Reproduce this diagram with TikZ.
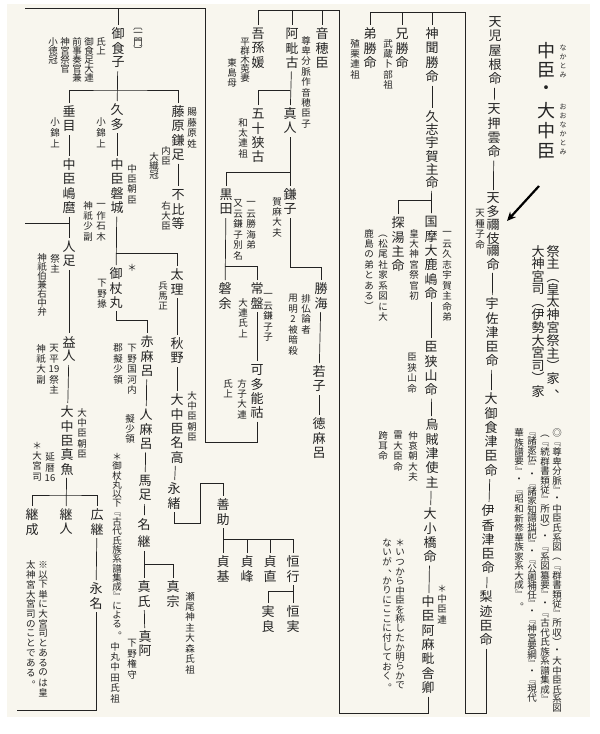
\documentclass[tikz,border=0pt]{standalone}
\usepackage{fontspec}
\newfontfamily\jp{Noto Sans CJK JP}
\usepackage{graphicx}
\usepackage{xcolor}
\definecolor{paper}{RGB}{248,246,238}
\definecolor{ink}{RGB}{35,35,35}
\usepackage{tikz}
\usetikzlibrary{arrows.meta}

% vertical stacking of characters, optional pitch in em
\makeatletter
\let\vs@end\relax
\def\vs@endm{\vs@end}
\newcommand\vstack[2][1.1]{\vbox{\offinterlineskip\def\vs@p{#1}\vs@loop#2\vs@end}}
\def\vs@loop#1{\def\vs@tmp{#1}\ifx\vs@tmp\vs@endm\else\vbox to \vs@p em{\vss\hbox to 1em{\hss#1\hss}\vss}\expandafter\vs@loop\fi}
\makeatother
% brackets and stops turned for vertical setting
\newcommand\vlp{\rotatebox[origin=c]{-90}{（}}
\newcommand\vrp{\rotatebox[origin=c]{-90}{）}}
\newcommand\vlq{\rotatebox[origin=c]{-90}{『}}
\newcommand\vrq{\rotatebox[origin=c]{-90}{』}}
\newcommand\vlt{\rotatebox[origin=c]{-90}{〔}}
\newcommand\vrt{\rotatebox[origin=c]{-90}{〕}}
\newcommand\vcomma{\rotatebox[origin=c]{180}{、}}
\newcommand\vstop{\rotatebox[origin=c]{180}{。}}

\begin{document}
\begin{tikzpicture}[
    x=1pt, y=-1pt,
    vname/.style={font=\jp\fontsize{13}{13}\selectfont, text=ink, inner sep=1.5pt, anchor=north},
    vnote/.style={font=\jp\fontsize{9.5}{9.5}\selectfont, text=ink, inner sep=0pt, anchor=north},
    vlong/.style={font=\jp\fontsize{9.5}{9.5}\selectfont, text=ink, inner sep=0pt, anchor=north},
    vtitle/.style={font=\jp\fontsize{18}{18}\selectfont, text=ink, inner sep=0pt, anchor=north},
    vruby/.style={font=\jp\fontsize{7}{7}\selectfont, text=ink, inner sep=0pt, anchor=north},
    link/.style={draw=ink, line width=0.7pt}
]
\useasboundingbox (0,0) rectangle (600,734);

% Page
\fill[white] (0,0) rectangle (600,734);
\fill[paper] (7,4) rectangle (590,717);

% Title
\node[vtitle] (title) at (546,40) {\vstack[1.12]{中臣・大中臣}};
\node[vruby] (rubyA) at (563,43) {\vstack[1.3]{なかとみ}};
\node[vruby] (rubyB) at (563,102) {\vstack[1.3]{おおなかとみ}};
\node[vname] (saishu) at (553,243) {\vstack[0.98]{祭主\vlp 皇太神宮祭主\vrp 家\vcomma}};
\node[vname] (daiguji) at (538,243) {\vstack[0.98]{大神宮司\vlp 伊勢大宮司\vrp 家}};

% Sources
\node[vlong] (srcA) at (557,428) {\vstack[1.0]{◎\vlq 尊卑分脈\vrq ・中臣氏系図\vlp\vlq 群書類従\vrq 所収\vrp ・大中臣氏系図}};
\node[vlong] (srcB) at (545,428) {\vstack[1.0]{\vlp\vlq 続群書類従\vrq 所収\vrp ・\vlq 系図纂要\vrq ・\vlq 古代氏族系譜集成\vrq}};
\node[vlong] (srcC) at (532,428) {\vstack[0.9]{\vlq 諸家伝\vrq ・\vlq 諸家知譜拙記\vrq ・\vlq 公卿補任\vrq ・\vlq 神宮要綱\vrq ・\vlq 現代}};
\node[vlong] (srcD) at (519,428) {\vstack[1.0]{華族譜要\vrq ・\vlq 昭和新修華族家系大成\vrq\vstop}};

% Right column: main line
\node[vname] (amakoyane) at (495,13) {\vstack{天児屋根命}};
\node[vname] (amaoshikumo) at (494,100) {\vstack{天押雲命}};
\node[vname] (amatane) at (493,190) {\vstack[1.02]{天多禰伎禰命}};
\node[vnote] (tanetsu) at (480,208) {\vstack{天種子命}};
\node[vname] (usatsu) at (492,295) {\vstack{宇佐津臣命}};
\node[vname] (omike) at (491,390) {\vstack{大御食津臣命}};
\node[vname] (ikatsu) at (488,502) {\vstack{伊香津臣命}};
\node[vname] (nashitomi) at (486,588) {\vstack{梨迹臣命}};

% Arrow
\coordinate (arrowtail) at (539,186);
\coordinate (arrowtip) at (507,221);
\draw[-{Stealth[length=9pt,width=8pt]}, line width=2.2pt, black] (arrowtail) -- (arrowtip);

% Second column
\node[vname] (kamikiku) at (432,25) {\vstack{神聞勝命}};
\node[vname] (ekatsu) at (402,25) {\vstack{兄勝命}};
\node[vname] (otokatsu) at (370,25) {\vstack{弟勝命}};
\node[vnote] (n-musashi) at (388,38) {\vstack{武蔵卜部祖}};
\node[vnote] (n-ekuri) at (355,38) {\vstack{殖栗連祖}};
\node[vname] (kushiuka) at (432,108) {\vstack[1.02]{久志宇賀主命}};
\node[vname] (kunisuri) at (431,213) {\vstack{国摩大鹿嶋命}};
\node[vname] (kukatachi) at (398,214) {\vstack{探湯主命}};
\node[vnote] (n-kunisuriA) at (447,228) {\vstack{一云久志宇賀主命弟}};
\node[vnote] (n-kunisuriB) at (414,228) {\vstack{皇大神宮祭官初}};
\node[vnote] (n-kukatachiA) at (383,228) {\vstack{\vlp 松尾社家系図に大}};
\node[vnote] (n-kukatachiB) at (369,228) {\vstack{鹿島の弟とある\vrp}};
\node[vname] (omisayama) at (431,338) {\vstack{臣狭山命}};
\node[vnote] (n-omisayama) at (412,352) {\vstack{臣狭山命}};
\node[vname] (ikatsuomi) at (432,416) {\vstack{烏賊津使主}};
\node[vnote] (n-ikatsuA) at (413,430) {\vstack{仲哀朝大夫}};
\node[vnote] (n-ikatsuB) at (398,430) {\vstack{雷大臣命}};
\node[vnote] (n-ikatsuC) at (383,430) {\vstack{跨耳命}};
\node[vname] (ohashi) at (430,505) {\vstack{大小橋命}};
\node[vname] (amahiko) at (428,593) {\vstack{中臣阿麻毗舎卿}};
\node[vnote] (n-amahiko) at (442,583) {\vstack{＊中臣連}};
\node[vlong] (n-itsukaraA) at (400,538) {\vstack[1.0]{＊いつから中臣を称したか明らかで}};
\node[vlong] (n-itsukaraB) at (387,538) {\vstack[1.0]{ないが\vcomma かりにここに付しておく\vstop}};

% Third column
\node[vname] (oho) at (322,25) {\vstack{音穂臣}};
\node[vname] (abiko) at (292,25) {\vstack{阿毗古}};
\node[vname] (agomime) at (258,25) {\vstack{吾孫媛}};
\node[vnote] (n-agoA) at (245,37) {\vstack[0.95]{平群木莵妻}};
\node[vnote] (n-agoB) at (232,57) {\vstack{東島母}};
\node[vnote] (n-abiko) at (306,35) {\vstack{尊卑分脈作音穂臣子}};
\node[vname] (mahito) at (290,105) {\vstack{真人}};
\node[vname] (isako) at (258,105) {\vstack{五十狭古}};
\node[vnote] (n-isako) at (243,117) {\vstack{和太連祖}};
\node[vname] (kamako) at (290,186) {\vstack{鎌子}};
\node[vname] (kuroda) at (226,186) {\vstack{黒田}};
\node[vnote] (n-kamako) at (277,196) {\vstack{賀麻大夫}};
\node[vnote] (n-kurodaA) at (251,198) {\vstack{一云勝海弟}};
\node[vnote] (n-kurodaB) at (238,198) {\vstack{又云鎌子別名}};
\node[vname] (katsumi) at (321,280) {\vstack{勝海}};
\node[vname] (iware) at (225,280) {\vstack{磐余}};
\node[vname] (tokiwa) at (257,280) {\vstack{常盤}};
\node[vnote] (n-tokiwaA) at (243,297) {\vstack{大連氏上}};
\node[vnote] (n-tokiwaB) at (268,290) {\vstack{一云鎌子子}};
\node[vnote] (n-katsumiA) at (306,293) {\vstack{排仏論者}};
\node[vnote] (n-katsumiB) at (293,293) {\vstack{用明{2}被暗殺}};
\node[vname] (katano) at (257,361) {\vstack{可多能祜}};
\node[vnote] (n-katanoA) at (242,378) {\vstack{方子大連}};
\node[vnote] (n-katanoB) at (228,378) {\vstack{氏上}};
\node[vname] (wakako) at (319,363) {\vstack{若子}};
\node[vname] (tokomaro) at (319,415) {\vstack{徳麻呂}};
\node[vname] (yoshisuke) at (223,496) {\vstack{善助}};
\node[vname] (sadamoto) at (223,553) {\vstack{貞基}};
\node[vname] (sadamine) at (247,553) {\vstack{貞峰}};
\node[vname] (sadanao) at (270,553) {\vstack{貞直}};
\node[vname] (tsuneyuki) at (293,553) {\vstack{恒行}};
\node[vname] (saneyoshi) at (268,603) {\vstack{実良}};
\node[vname] (tsunezane) at (293,603) {\vstack{恒実}};

% Left block
\node[vname] (mikeko) at (118,25) {\vstack{御食子}};
\node[vnote] (ichimon) at (138,22) {\vstack[0.85]{\vlt 一門\vrt}};
\node[vnote] (n-mikekoA) at (101,37) {\vstack[0.95]{氏上}};
\node[vnote] (n-mikekoB) at (89,37) {\vstack[0.95]{御食足大連}};
\node[vnote] (n-mikekoC) at (77,37) {\vstack[0.95]{前事奏官兼}};
\node[vnote] (n-mikekoD) at (65,37) {\vstack[0.95]{神宮祭官}};
\node[vnote] (n-mikekoE) at (53,37) {\vstack[0.95]{小徳冠}};
\node[vname] (tarume) at (69,103) {\vstack{垂目}};
\node[vname] (kuta) at (117,101) {\vstack{久多}};
\node[vname] (kamatari) at (178,103) {\vstack{藤原鎌足}};
\node[vnote] (n-tarume) at (55,117) {\vstack{小錦上}};
\node[vnote] (n-kuta) at (101,117) {\vstack{小錦上}};
\node[vnote] (n-kamatariA) at (192,107) {\vstack{賜藤原姓}};
\node[vnote] (n-kamatariB) at (166,145) {\vstack{内臣}};
\node[vnote] (n-kamatariC) at (154,152) {\vstack[0.95]{大織冠}};
\node[vname] (fuhito) at (178,186) {\vstack{不比等}};
\node[vnote] (n-fuhito) at (166,200) {\vstack{右大臣}};
\node[vname] (shimamaro) at (69,156) {\vstack{中臣嶋麿}};
\node[vname] (iwaki) at (117,156) {\vstack{中臣磐城}};
\node[vnote] (n-iwakiA) at (132,163) {\vstack{中臣朝臣}};
\node[vnote] (n-iwakiB) at (101,200) {\vstack{一作石木}};
\node[vnote] (n-iwakiC) at (88,200) {\vstack{神祇少副}};
\node[vname] (hitotari) at (69,238) {\vstack{人足}};
\node[vnote] (n-hitotariA) at (55,253) {\vstack{祭主}};
\node[vnote] (n-hitotariB) at (42,253) {\vstack[0.95]{神祇伯兼右中弁}};
\node[vname] (mitsuemaru) at (116,265) {\vstack{御杖丸}};
\node[vnote] (n-star) at (132,262) {\vstack{＊}};
\node[vnote] (n-mitsue) at (102,278) {\vstack{下野掾}};
\node[vname] (tari) at (177,266) {\vstack{太理}};
\node[vnote] (n-tari) at (163,280) {\vstack{兵馬正}};
\node[vname] (masuhito) at (69,333) {\vstack{益人}};
\node[vnote] (n-masuA) at (54,343) {\vstack{天平{19}祭主}};
\node[vnote] (n-masuB) at (41,343) {\vstack{神祇大副}};
\node[vname] (mao) at (67,403) {\vstack{大中臣真魚}};
\node[vnote] (n-maoA) at (82,407) {\vstack{大中臣朝臣}};
\node[vnote] (n-maoB) at (50,452) {\vstack{延暦{16}}};
\node[vnote] (n-maoC) at (37,440) {\vstack{＊大宮司}};
\node[vname] (tsugunari) at (32,506) {\vstack{継成}};
\node[vname] (tsuguhito) at (66,506) {\vstack{継人}};
\node[vname] (hirotsugu) at (97,506) {\vstack{広継}};
\node[vname] (nagana) at (96,580) {\vstack{永名}};
\node[vlong] (n-igeA) at (43,560) {\vstack[1.03]{※以下単に大宮司とあるのは皇}};
\node[vlong] (n-igeB) at (31,560) {\vstack[1.03]{太神宮大宮司のことである\vstop}};
\node[vname] (akamaro) at (147,333) {\vstack{赤麻呂}};
\node[vnote] (n-akaA) at (132,343) {\vstack{下野国河内}};
\node[vnote] (n-akaB) at (118,343) {\vstack{郡擬少領}};
\node[vname] (hitomaro) at (146,406) {\vstack{人麻呂}};
\node[vnote] (n-hitomaro) at (130,413) {\vstack{擬少領}};
\node[vname] (umatari) at (145,472) {\vstack{馬足}};
\node[vlong] (n-mitsueB) at (117,452) {\vstack[0.98]{＊御杖丸以下\vlq 古代氏族系譜集成\vrq による\vstop}};
\node[vname] (natsugu) at (144,515) {\vstack[1.25]{名継}};
\node[vname] (maushi) at (144,578) {\vstack{真氏}};
\node[vname] (mamune) at (173,578) {\vstack{真宗}};
\node[vnote] (n-mamune) at (190,591) {\vstack{瀬尾神主大森氏祖}};
\node[vname] (maa) at (145,628) {\vstack{真阿}};
\node[vnote] (n-maaA) at (132,638) {\vstack{下野権守}};
\node[vnote] (n-maaB) at (115,641) {\vstack{中丸中田氏祖}};
\node[vname] (akino) at (177,335) {\vstack{秋野}};
\node[vname] (nadaka) at (177,391) {\vstack{大中臣名高}};
\node[vnote] (n-nadaka) at (192,390) {\vstack{大中臣朝臣}};
\node[vname] (nagao) at (174,480) {\vstack{永緒}};

% Links: right column
\draw[link] (amakoyane) -- (amaoshikumo);
\draw[link] (amaoshikumo) -- (amatane);
\draw[link] (amatane) -- (usatsu);
\draw[link] (usatsu) -- (omike);
\draw[link] (omike) -- (ikatsu);
\draw[link] (ikatsu) -- (nashitomi);
\coordinate (rtop) at (465,12);
\coordinate (rbot) at (465,713);
\draw[link] (nashitomi.south) |- (rbot) -- (rtop) -| (otokatsu.north);
\draw[link] (kamikiku.north) -- (kamikiku.north |- rtop);
\draw[link] (ekatsu.north) -- (ekatsu.north |- rtop);

% Links: second column
\draw[link] (kamikiku) -- (kushiuka);
\draw[link] (kushiuka) -- (kunisuri);
\draw[link] (kukatachi.north) |- ([yshift=13pt]kunisuri.north);
\draw[link] (kunisuri) -- (omisayama);
\draw[link] (omisayama) -- (ikatsuomi);
\draw[link] (ikatsuomi) -- (ohashi);
\draw[link] (ohashi) -- (amahiko);
\coordinate (mtop) at (339,10);
\coordinate (mbot) at (339,713);
\draw[link] (amahiko.south) |- (mbot) -- (mtop) -| (agomime.north);
\draw[link] (oho.north) -- (oho.north |- mtop);
\draw[link] (abiko.north) -- (abiko.north |- mtop);

% Links: third column
\draw[link] (abiko) -- (mahito);
\draw[link] (isako.north) |- ([yshift=15pt]mahito.north);
\draw[link] (mahito) -- (kamako);
\draw[link] (kuroda.north) |- ([yshift=14pt]kamako.north);
\draw[link] (kamako.south) |- ([yshift=13pt]katsumi.north) -- (katsumi.north);
\draw[link] (kuroda) -- (iware);
\draw[link] (tokiwa.north) |- ([yshift=14pt]iware.north);
\draw[link] (tokiwa) -- (katano);
\draw[link] (katsumi) -- (wakako);
\draw[link] (wakako) -- (tokomaro);
\coordinate (ltop) at (205,8);
\coordinate (lbot) at (205,442);
\coordinate (lend) at (25,8);
\draw[link] (katano.south) |- (lbot) -- (ltop) -- (lend);
\draw[link] (mikeko.north) -- (mikeko.north |- ltop);

% Links: left block
\draw[link] (mikeko) -- (kuta);
\draw[link] (tarume.north) |- ([yshift=11pt]kuta.north) -| (kamatari.north);
\draw[link] (kamatari) -- (fuhito);
\draw[link] (tarume) -- (shimamaro);
\draw[link] (kuta) -- (iwaki);
\draw[link] (shimamaro) -- (hitotari);
\coordinate (lstub) at (25,223);
\draw[link] (lstub) -- (lstub -| hitotari.north);
\draw[link] (iwaki) -- (mitsuemaru);
\draw[link] (tari.north) |- ([yshift=12pt]mitsuemaru.north);
\draw[link] (hitotari) -- (masuhito);
\draw[link] (masuhito) -- (mao);
\draw[link] (mao) -- (tsuguhito);
\draw[link] (tsugunari.north) |- ([yshift=11pt]tsuguhito.north) -| (hirotsugu.north);
\draw[link] (hirotsugu) -- (nagana);
\coordinate (nstub) at (17,710);
\draw[link] (nagana.south) |- (nstub);
\draw[link] (mitsuemaru.south) |- ([yshift=13pt]akamaro.north) -- (akamaro.north);
\draw[link] (akamaro) -- (hitomaro);
\draw[link] (hitomaro) -- (umatari);
\draw[link] (umatari) -- (natsugu);
\draw[link] (natsugu) -- (maushi);
\draw[link] (mamune.north) |- ([yshift=14pt]maushi.north);
\draw[link] (maushi) -- (maa);
\draw[link] (tari) -- (akino);
\draw[link] (akino) -- (nadaka);
\draw[link] (nadaka) -- (nagao);
\coordinate (nbot) at (200,523);
\coordinate (ntop) at (200,483);
\draw[link] (nagao.south) |- (nbot) -- (ntop) -| (yoshisuke.north);
\draw[link] (yoshisuke) -- (sadamoto);
\draw[link] ([yshift=14pt]sadamoto.north) -| (tsuneyuki.north);
\draw[link] (sadamine.north) -- ([yshift=14pt]sadamine.north);
\draw[link] (sadanao.north) -- ([yshift=14pt]sadanao.north);
\draw[link] (tsuneyuki) -- (tsunezane);
\draw[link] (saneyoshi.north) |- ([yshift=12pt]tsunezane.north);

\end{tikzpicture}
\end{document}
